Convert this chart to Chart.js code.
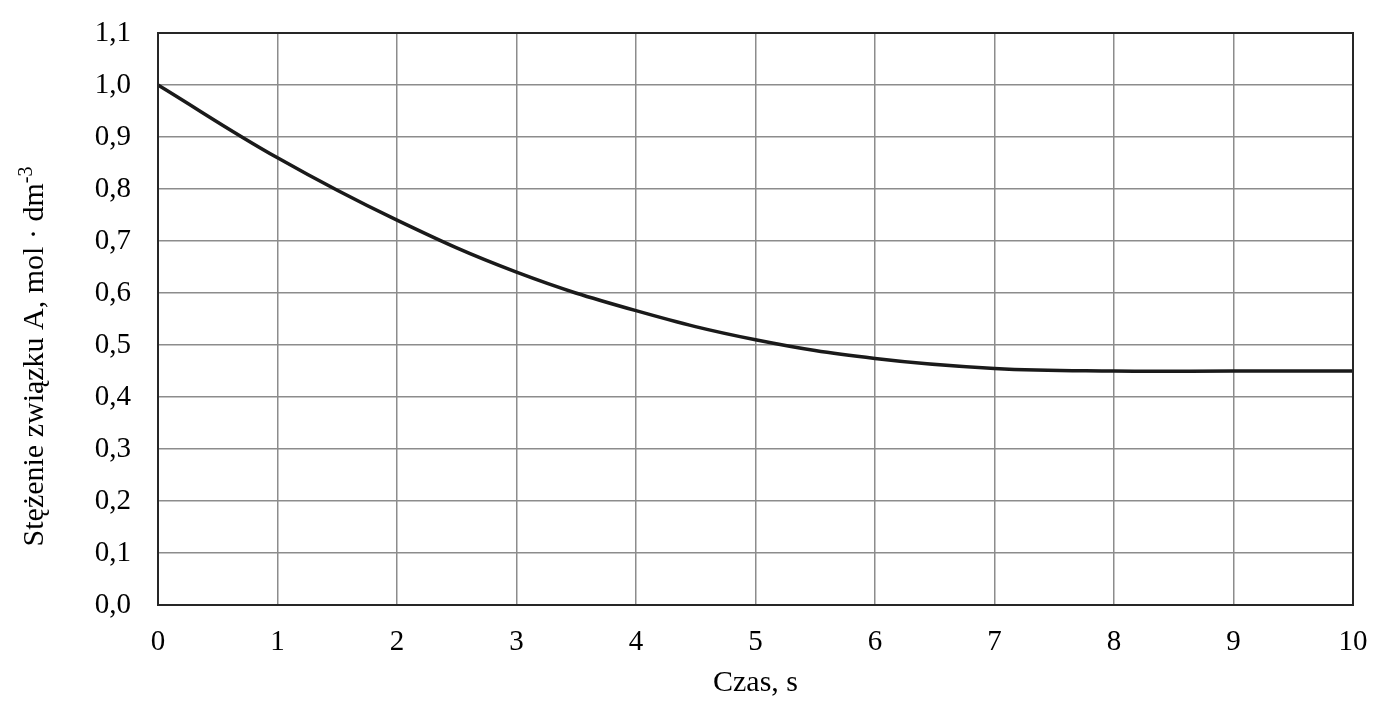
<!DOCTYPE html>
<html>
<head>
<meta charset="utf-8">
<script src="https://cdn.jsdelivr.net/npm/chart.js@4.4.1/dist/chart.umd.min.js"></script>
<style>
    html, body { margin: 0; padding: 0; background: #fff; }
    #chart-container { width: 1400px; height: 723px; }
</style>
</head>
<body>
<div id="chart-container">
    <canvas id="chart-stezenie" width="1400" height="723"></canvas>
</div>
<script>
// Dane
const czas = [0, 1, 2, 3, 4, 5, 6, 7, 8, 9, 10];
const stezenie = [1.0, 0.86, 0.74, 0.64, 0.566, 0.51, 0.474, 0.455, 0.45, 0.45, 0.45];
const xTitle = 'Czas, s';
const yTitleMain = 'Stężenie związku A, mol · dm';
const yTitleSup = '-3';

const FONT = '"Liberation Serif", "Times New Roman", serif';

/**
 * Frame around the plot area and the rotated y title with superscript
 */
const framePlugin = {
    id: 'frame',
    afterDraw(chart) {
        const ctx = chart.ctx;
        const a = chart.chartArea;
        ctx.save();
        ctx.strokeStyle = '#262626';
        ctx.lineWidth = 2;
        ctx.strokeRect(a.left, a.top, a.right - a.left, a.bottom - a.top);

        // y title (centred on the whole chart height, like the original)
        const size = 30;
        ctx.translate(43, chart.height / 2 - 5);
        ctx.rotate(-Math.PI / 2);
        ctx.fillStyle = '#000';
        ctx.textBaseline = 'alphabetic';
        ctx.font = size + 'px ' + FONT;
        const w1 = ctx.measureText(yTitleMain).width;
        ctx.font = Math.round(size * 0.65) + 'px ' + FONT;
        const w2 = ctx.measureText(yTitleSup).width;
        const start = -(w1 + w2) / 2;
        ctx.font = size + 'px ' + FONT;
        ctx.fillText(yTitleMain, start, 0);
        ctx.font = Math.round(size * 0.65) + 'px ' + FONT;
        ctx.fillText(yTitleSup, start + w1, -size * 0.38);
        ctx.restore();
    }
};

const ctx = document.getElementById('chart-stezenie').getContext('2d');
new Chart(ctx, {
    type: 'line',
    data: {
        datasets: [{
            data: czas.map((t, i) => ({ x: t, y: stezenie[i] })),
            borderColor: '#1a1a1a',
            borderWidth: 3.5,
            pointRadius: 0,
            tension: 0.4,
            fill: false,
            clip: false
        }]
    },
    options: {
        responsive: false,
        animation: false,
        devicePixelRatio: 1,
        plugins: {
            legend: { display: false },
            tooltip: { enabled: false }
        },
        layout: {
            padding: { left: 0, right: 47, top: 33, bottom: 0 }
        },
        scales: {
            x: {
                type: 'linear',
                min: 0,
                max: 10,
                afterFit: (scale) => {
                    scale.height = 118;
                    scale.paddingLeft = 0;
                    scale.paddingRight = 0;
                },
                ticks: {
                    stepSize: 1,
                    color: '#000',
                    padding: 20,
                    maxRotation: 0,
                    font: { family: FONT, size: 29 }
                },
                grid: { color: '#8c8c8c', lineWidth: 1.5, drawTicks: false },
                border: { display: true, color: '#262626', width: 2 },
                title: {
                    display: true,
                    text: xTitle,
                    color: '#000',
                    padding: { top: 0, bottom: 22 },
                    font: { family: FONT, size: 30 }
                }
            },
            y: {
                min: 0,
                max: 1.1,
                afterFit: (scale) => {
                    scale.width = 158;
                    scale.paddingTop = 0;
                    scale.paddingBottom = 0;
                },
                ticks: {
                    stepSize: 0.1,
                    color: '#000',
                    padding: 27,
                    font: { family: FONT, size: 29 },
                    callback: (value) => value.toFixed(1).replace('.', ',')
                },
                grid: { color: '#8c8c8c', lineWidth: 1.5, drawTicks: false },
                border: { display: true, color: '#262626', width: 2 }
            }
        }
    },
    plugins: [framePlugin]
});
</script>
</body>
</html>
